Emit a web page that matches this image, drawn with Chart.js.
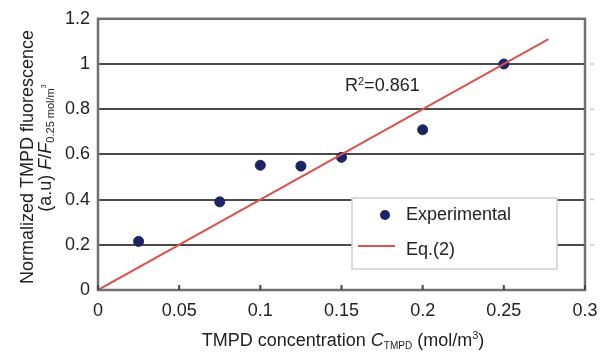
<!DOCTYPE html>
<html>
<head>
<meta charset="utf-8">
<script src="https://cdn.jsdelivr.net/npm/chart.js@4"></script>
<style>
  body { margin: 0; background: #fff; }
  #wrap { width: 605px; height: 353px; position: relative; }
</style>
</head>
<body>
<div id="wrap"><canvas id="fluoChart"></canvas></div>
<script>
// data
const concentration = [0.025, 0.075, 0.1, 0.125, 0.15, 0.2, 0.25];
const fluorescence = [0.215, 0.39, 0.552, 0.548, 0.587, 0.709, 1.0];
const fitX = [0, 0.2775];
const fitY = [0, 1.11];
const xTicks = [0, 0.05, 0.1, 0.15, 0.2, 0.25, 0.3];
const yTicks = [0, 0.2, 0.4, 0.6, 0.8, 1, 1.2];

const FONT = '"Liberation Sans", Arial, sans-serif';

// draw a run of text pieces: {t, it, size, dy}
function richText(ctx, parts, x, y, size, align) {
    const fontOf = p => (p.it ? 'italic ' : '') + (p.size || size) + 'px ' + FONT;
    let total = 0;
    parts.forEach(p => { ctx.font = fontOf(p); total += ctx.measureText(p.t).width; });
    let cx = align === 'center' ? x - total / 2 : x;
    ctx.textBaseline = 'alphabetic';
    ctx.textAlign = 'left';
    parts.forEach(p => {
        ctx.font = fontOf(p);
        ctx.fillText(p.t, cx, y + (p.dy || 0));
        cx += ctx.measureText(p.t).width;
    });
}

const decorations = {
    id: 'decorations',
    afterDraw(chart) {
        const ctx = chart.ctx;
        const area = chart.chartArea;
        const xs = chart.scales.x;
        const ys = chart.scales.y;
        ctx.save();

        // plot frame
        ctx.strokeStyle = '#707070';
        ctx.lineWidth = 2.5;
        ctx.strokeRect(area.left, area.top, area.right - area.left, area.bottom - area.top);

        // small inward ticks on the x axis
        ctx.strokeStyle = '#444';
        ctx.lineWidth = 2;
        xTicks.forEach(v => {
            const px = xs.getPixelForValue(v);
            ctx.beginPath();
            ctx.moveTo(px, area.bottom);
            ctx.lineTo(px, area.bottom - 5);
            ctx.stroke();
        });
        // faint marks right of the frame
        ctx.strokeStyle = '#c8c8c8';
        ctx.lineWidth = 1.5;
        yTicks.slice(1, -1).forEach(v => {
            const py = ys.getPixelForValue(v);
            ctx.beginPath();
            ctx.moveTo(area.right + 5, py);
            ctx.lineTo(area.right + 9, py);
            ctx.stroke();
        });

        ctx.fillStyle = '#222';
        // R² annotation
        richText(ctx, [{t: 'R'}, {t: '2', size: 11, dy: -6}, {t: '=0.861'}], 345, 91, 18, 'left');

        // x axis title
        richText(ctx, [
            {t: 'TMPD concentration '}, {t: 'C', it: true}, {t: 'TMPD', size: 10, dy: 3},
            {t: ' (mol/m'}, {t: '3', size: 11, dy: -7}, {t: ')'}
        ], 343, 346, 18, 'center');

        // y axis title (rotated, two lines)
        ctx.save();
        ctx.rotate(-Math.PI / 2);
        richText(ctx, [{t: 'Normalized TMPD fluorescence'}], -157, 33, 18, 'center');
        richText(ctx, [
            {t: '(a.u) '}, {t: 'F', it: true}, {t: '/'}, {t: 'F', it: true},
            {t: '0.25 mol/m', size: 11, dy: 3}, {t: '3', size: 7, dy: -5}
        ], -148, 51, 18, 'center');
        ctx.restore();

        // legend box
        const lx = 352, ly = 198, lw = 205, lh = 71;
        ctx.fillStyle = '#fff';
        ctx.fillRect(lx, ly, lw, lh);
        ctx.strokeStyle = '#cfcfcf';
        ctx.lineWidth = 1.5;
        ctx.strokeRect(lx, ly, lw, lh);

        ctx.fillStyle = '#1d2466';
        ctx.beginPath();
        ctx.arc(385, 215, 5, 0, Math.PI * 2);
        ctx.fill();

        ctx.strokeStyle = '#d9544f';
        ctx.lineWidth = 2;
        ctx.beginPath();
        ctx.moveTo(358, 246);
        ctx.lineTo(395, 246);
        ctx.stroke();

        ctx.fillStyle = '#222';
        ctx.font = '18px ' + FONT;
        ctx.textBaseline = 'middle';
        ctx.textAlign = 'left';
        ctx.fillText('Experimental', 406, 215);
        ctx.fillText('Eq.(2)', 406, 250);

        ctx.restore();
    }
};

new Chart(document.getElementById('fluoChart'), {
    type: 'scatter',
    data: {
        datasets: [
            {
                label: 'Eq.(2)',
                type: 'line',
                data: fitX.map((x, i) => ({x: x, y: fitY[i]})),
                borderColor: '#d9544f',
                borderWidth: 2,
                pointRadius: 0,
                fill: false
            },
            {
                label: 'Experimental',
                data: concentration.map((x, i) => ({x: x, y: fluorescence[i]})),
                backgroundColor: '#1d2466',
                borderColor: '#1d2466',
                pointRadius: 5,
                pointHoverRadius: 5
            }
        ]
    },
    options: {
        responsive: true,
        maintainAspectRatio: false,
        animation: false,
        layout: { padding: { top: 14, right: 20, left: 0, bottom: 0 } },
        plugins: {
            legend: { display: false },
            tooltip: { enabled: false }
        },
        scales: {
            x: {
                type: 'linear',
                min: 0,
                max: 0.3,
                afterBuildTicks: s => { s.ticks = xTicks.map(v => ({value: v})); },
                afterFit: s => { s.height = 63; },
                grid: { display: false },
                border: { display: false },
                ticks: {
                    color: '#222',
                    font: { family: FONT, size: 18 },
                    padding: 2,
                    maxRotation: 0,
                    callback: v => String(+v.toFixed(2))
                }
            },
            y: {
                min: 0,
                max: 1.2,
                afterBuildTicks: s => { s.ticks = yTicks.map(v => ({value: v})); },
                afterFit: s => { s.width = 98; },
                grid: { color: '#4a4a4a', lineWidth: 2, drawTicks: false },
                border: { display: false },
                ticks: {
                    color: '#222',
                    font: { family: FONT, size: 18 },
                    padding: 8,
                    callback: v => String(+v.toFixed(1))
                }
            }
        }
    },
    plugins: [decorations]
});
</script>
</body>
</html>
